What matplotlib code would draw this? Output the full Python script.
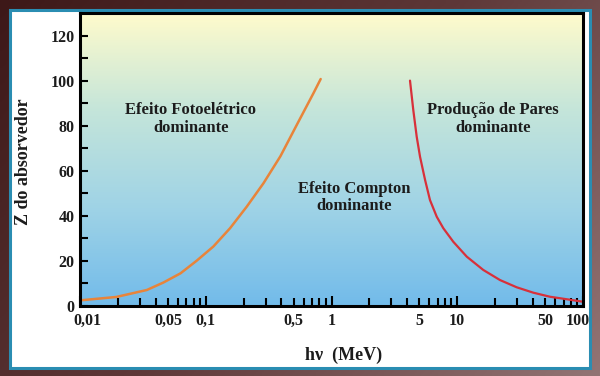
import numpy as np
import matplotlib
matplotlib.use('Agg')
import matplotlib.pyplot as plt
from matplotlib.colors import LinearSegmentedColormap
from matplotlib.patches import Rectangle
from matplotlib.ticker import FixedLocator, FuncFormatter
from matplotlib.transforms import ScaledTranslation

# ---------------- data ----------------
photo_E = [0.01, 0.0194, 0.034, 0.046, 0.063, 0.0847, 0.115, 0.156, 0.212, 0.288, 0.392, 0.53, 0.72, 0.82]
photo_Z = [2.5, 4.0, 7.1, 10.4, 14.5, 20.1, 26.4, 34.5, 44.1, 54.5, 66.4, 80.4, 94.5, 100.7]

pair_E = [4.21, 4.47, 4.76, 5.06, 5.55, 6.07, 6.87, 7.75, 9.30, 11.9, 16.1, 21.9, 29.7, 40.3, 54.7, 74.2, 99.5]
pair_Z = [100.0, 87.0, 75.1, 66.2, 55.9, 47.0, 39.6, 34.5, 28.5, 21.9, 16.0, 11.5, 8.3, 5.9, 4.1, 3.0, 1.9]

x_major = [0.01, 0.1, 1, 10, 100]
x_minor = [m * d for d in [0.01, 0.1, 1, 10] for m in range(2, 10)]
x_labels = {0.01: "0,01", 0.05: "0,05", 0.1: "0,1", 0.5: "0,5", 1: "1",
            5: "5", 10: "10", 50: "50", 100: "100"}
y_major = [0, 20, 40, 60, 80, 100, 120]
y_minor = [10, 30, 50, 70, 90, 110]

region_texts = [
    ("Efeito Fotoelétrico\ndominante", 0.076, 83),
    ("Efeito Compton\ndominante", 1.51, 48),
    ("Produção de Pares\ndominante", 19.2, 83),
]

# ---------------- figure ----------------
W, H = 600, 376
fig = plt.figure(figsize=(W / 100, H / 100), dpi=100)

serif = ['Liberation Serif', 'DejaVu Serif']
txt_col = '#1c1c1c'

# brown outer background (diagonal gradient)
bgax = fig.add_axes([0, 0, 1, 1], zorder=-10)
yy, xx = np.mgrid[0:1:200j, 0:1:300j]
g = 0.65 * xx + 0.35 * yy
brown = LinearSegmentedColormap.from_list('br', ['#3d1818', '#5e3838', '#927474'])
bgax.imshow(g, cmap=brown, aspect='auto', extent=[0, 1, 0, 1], origin='upper')
bgax.set_axis_off()

# white panel with teal border
panel = Rectangle((10 / W, (H - 368) / H), 580 / W, 358 / H, transform=fig.transFigure,
                  facecolor='white', edgecolor='#2a8db2', linewidth=2.2, zorder=-5)
fig.patches.append(panel)

# axes position
L, R, T, B = 80, 583, 13, 306
pos = [L / W, (H - B) / H, (R - L) / W, (B - T) / H]

# gradient inside plot
gax = fig.add_axes(pos, zorder=0)
grad = np.linspace(0, 1, 256).reshape(-1, 1)
sky = LinearSegmentedColormap.from_list('sky', ['#fffbcc', '#c4e5da', '#9fd3e6', '#72bbea'])
gax.imshow(grad, cmap=sky, aspect='auto', extent=[0, 1, 0, 1], origin='upper')
gax.set_axis_off()

ax = fig.add_axes(pos, zorder=1)
ax.patch.set_alpha(0)
ax.set_xscale('log')
ax.set_xlim(0.01, 100)
ax.set_ylim(0, 130)

ax.plot(photo_E, photo_Z, color='#e8843a', lw=1.8, solid_capstyle='round', solid_joinstyle='round')
ax.plot(pair_E, pair_Z, color='#d8303a', lw=1.6, solid_capstyle='round', solid_joinstyle='round')

for s, x, y in region_texts:
    ax.text(x, y, s, ha='center', va='center', fontsize=12, fontweight='bold',
            family=serif, color=txt_col, linespacing=1.1)

for sp in ax.spines.values():
    sp.set_linewidth(2.2)
    sp.set_color('black')

ax.xaxis.set_major_locator(FixedLocator(x_major))
ax.xaxis.set_minor_locator(FixedLocator(x_minor))
fmt = FuncFormatter(lambda v, p: next((lab for k, lab in x_labels.items() if abs(v / k - 1) < 1e-6), ""))
ax.xaxis.set_major_formatter(fmt)
ax.xaxis.set_minor_formatter(fmt)
ax.yaxis.set_major_locator(FixedLocator(y_major))
ax.yaxis.set_minor_locator(FixedLocator(y_minor))

ax.tick_params(axis='x', which='major', direction='in', length=7, width=1.5, pad=5)
ax.tick_params(axis='x', which='minor', direction='in', length=5.5, width=1.5, pad=5)
ax.tick_params(axis='y', which='both', direction='in', length=5.8, width=1.5, pad=4)
for lab in ax.get_xticklabels(which='both') + ax.get_yticklabels():
    lab.set_fontfamily(serif)
    lab.set_fontweight('bold')
    lab.set_fontsize(11.5)
    lab.set_color(txt_col)

# nudge end labels like the reference
xt = ax.xaxis.get_major_ticks()
xt[0].label1.set_transform(xt[0].label1.get_transform() + ScaledTranslation(7 / 100, 0, fig.dpi_scale_trans))
xt[-1].label1.set_transform(xt[-1].label1.get_transform() + ScaledTranslation(-5 / 100, 0, fig.dpi_scale_trans))

fig.text(24 / W, 1 - 162 / H, "Z do absorvedor", rotation=90, ha='center', va='center',
         fontsize=13, fontweight='bold', family=serif, color=txt_col)
fig.text(344 / W, 1 - 355 / H, "hν  (MeV)", ha='center', va='center',
         fontsize=13, fontweight='bold', family=serif, color=txt_col)

fig.savefig('out.png', dpi=100)
